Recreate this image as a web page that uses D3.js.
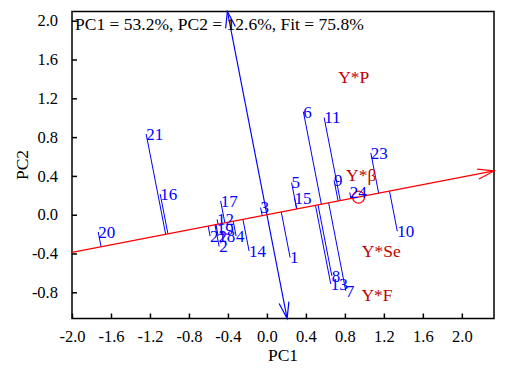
<!DOCTYPE html>
<html><head><meta charset="utf-8">
<script src="https://cdn.jsdelivr.net/npm/d3@7"></script>
<style>
body{margin:0;background:#fff}
svg{display:block}
</style>
</head><body>
<svg id="chart" width="505" height="369"></svg>
<script>
// ---- data ----
const genotypes = ["1","2","3","4","5","6","7","8","9","10","11","12","13","14","15","16","17","18","19","20","21","22","23","24"];
const genoPC1 = [0.238,-0.49,-0.065,-0.316,0.253,0.374,0.809,0.666,0.689,1.338,0.587,-0.511,0.655,-0.183,0.284,-1.095,-0.475,-0.5,-0.516,-1.731,-1.239,-0.583,1.066,0.85];
const genoPC2 = [-0.441,-0.328,0.074,-0.22,0.332,1.062,-0.785,-0.63,0.355,-0.171,1.002,-0.049,-0.714,-0.374,0.169,0.213,0.141,-0.22,-0.147,-0.178,0.832,-0.22,0.638,0.229];
const envLabels = ["Y*P","Y*\u03B2","Y*Se","Y*F"];
const envPC1 = [0.891,0.968,1.173,1.13];
const envPC2 = [1.423,0.415,-0.372,-0.828];
const avgEnv = [0.94, 0.182];
const xTicks = [-2.0,-1.6,-1.2,-0.8,-0.4,0.0,0.4,0.8,1.2,1.6,2.0];
const yTicks = [-0.8,-0.4,0.0,0.4,0.8,1.2,1.6,2.0];
const xDomain = [-2.0, 2.33];
const yDomain = [-1.07, 2.095];
const titleText = "PC1 = 53.2%, PC2 = 12.6%, Fit = 75.8%";
const xTitle = "PC1", yTitle = "PC2";

// ---- layout ----
const FONT = '"Liberation Serif", Tinos, "Times New Roman", serif';
const L = 72, R = 494, T = 11.5, B = 318.5;
const svg = d3.select("#chart").style("font-family", FONT);
const x = d3.scaleLinear().domain(xDomain).range([L, R]);
const y = d3.scaleLinear().domain(yDomain).range([B, T]);
const blue = "#0000ff", red = "#ff0000", dred = "#c00000";
const fmt = v => (Math.abs(v) < 1e-9 ? 0 : v).toFixed(1);

// frame
svg.append("rect").attr("x", L).attr("y", T).attr("width", R - L).attr("height", B - T)
  .attr("fill", "none").attr("stroke", "#000").attr("stroke-width", 1.5);

// axes (ticks inward)
const xAxis = d3.axisBottom(x).tickValues(xTicks).tickFormat(fmt).tickSizeInner(-5).tickSizeOuter(0).tickPadding(12);
const yAxis = d3.axisLeft(y).tickValues(yTicks).tickFormat(fmt).tickSizeInner(-5).tickSizeOuter(0).tickPadding(14);
const gx = svg.append("g").attr("transform", `translate(0,${B})`).call(xAxis);
const gy = svg.append("g").attr("transform", `translate(${L},0)`).call(yAxis);
[gx, gy].forEach(g => {
  g.attr("font-family", null).attr("font-size", null);
  g.select(".domain").remove();
  g.selectAll(".tick line").attr("stroke", "#000").attr("stroke-width", 1.5);
  g.selectAll(".tick text").attr("fill", "#000").style("font-size", "16.5px")
   .style("font-family", FONT);
});

svg.append("text").attr("x", (L + R) / 2).attr("y", 361).attr("text-anchor", "middle")
  .style("font-family", FONT).style("font-size", "17.5px").text(xTitle);
svg.append("text").attr("transform", `translate(28,${(T + B) / 2}) rotate(-90)`).attr("text-anchor", "middle")
  .style("font-family", FONT).style("font-size", "17.5px").text(yTitle);

// AEA direction
const ax = avgEnv[0], ay = avgEnv[1];
const norm = Math.hypot(ax, ay);
const ux = ax / norm, uy = ay / norm;

function arrowHead(g, tipX, tipY, fromX, fromY, color) {
  const ang = Math.atan2(fromY - tipY, fromX - tipX);
  const len = 17, spread = 17 * Math.PI / 180;
  const p1 = [tipX + len * Math.cos(ang + spread), tipY + len * Math.sin(ang + spread)];
  const p2 = [tipX + len * Math.cos(ang - spread), tipY + len * Math.sin(ang - spread)];
  g.append("path").attr("d", `M${p1[0]},${p1[1]}L${tipX},${tipY}L${p2[0]},${p2[1]}`)
    .attr("fill", "none").attr("stroke", color).attr("stroke-width", 1.2);
}

// genotype projection lines
const genoData = genotypes.map((g, i) => {
  const px = genoPC1[i], py = genoPC2[i];
  const d = px * ux + py * uy;
  return {label: g, px, py, fx: d * ux, fy: d * uy};
});
svg.append("g").selectAll("line").data(genoData).join("line")
  .attr("x1", d => x(d.px)).attr("y1", d => y(d.py))
  .attr("x2", d => x(d.fx)).attr("y2", d => y(d.fy))
  .attr("stroke", blue).attr("stroke-width", 1);

// ATC ordinate (perpendicular through origin)
const gb = svg.append("g");
const topX = -ay * (yDomain[1] / ax), botX = -ay * (yDomain[0] / ax);
const tX = x(topX), tY = y(yDomain[1]), bX = x(botX), bY = y(yDomain[0]);
gb.append("line").attr("x1", tX).attr("y1", tY).attr("x2", bX).attr("y2", bY)
  .attr("stroke", blue).attr("stroke-width", 1.2);
arrowHead(gb, tX, tY, bX, bY, blue);
arrowHead(gb, bX, bY, tX, tY, blue);

// AEA line
const gr = svg.append("g");
const lX = x(xDomain[0]), lY = y(xDomain[0] * ay / ax);
const rX = x(xDomain[1]), rY = y(xDomain[1] * ay / ax);
gr.append("line").attr("x1", lX).attr("y1", lY).attr("x2", rX).attr("y2", rY)
  .attr("stroke", red).attr("stroke-width", 1.3);
arrowHead(gr, rX, rY, lX, lY, red);

// genotype labels
svg.append("g").selectAll("text").data(genoData).join("text")
  .attr("x", d => x(d.px)).attr("y", d => y(d.py)).attr("dy", "0.35em")
  .attr("fill", blue).style("font-family", FONT).style("font-size", "17px").text(d => d.label);

// average environment circle
gr.append("circle").attr("cx", x(ax)).attr("cy", y(ay)).attr("r", 6)
  .attr("fill", "none").attr("stroke", red).attr("stroke-width", 1.2);

// environment labels
svg.append("g").selectAll("text").data(envLabels).join("text")
  .attr("x", (d, i) => x(envPC1[i])).attr("y", (d, i) => y(envPC2[i])).attr("dy", "0.35em")
  .attr("text-anchor", "middle").attr("fill", dred).style("font-family", FONT).style("font-size", "17.5px").text(d => d);

// title
svg.append("text").attr("x", 75).attr("y", 30).attr("fill", "#000")
  .style("font-family", FONT).style("font-size", "17.5px").text(titleText);
</script>
</body></html>
